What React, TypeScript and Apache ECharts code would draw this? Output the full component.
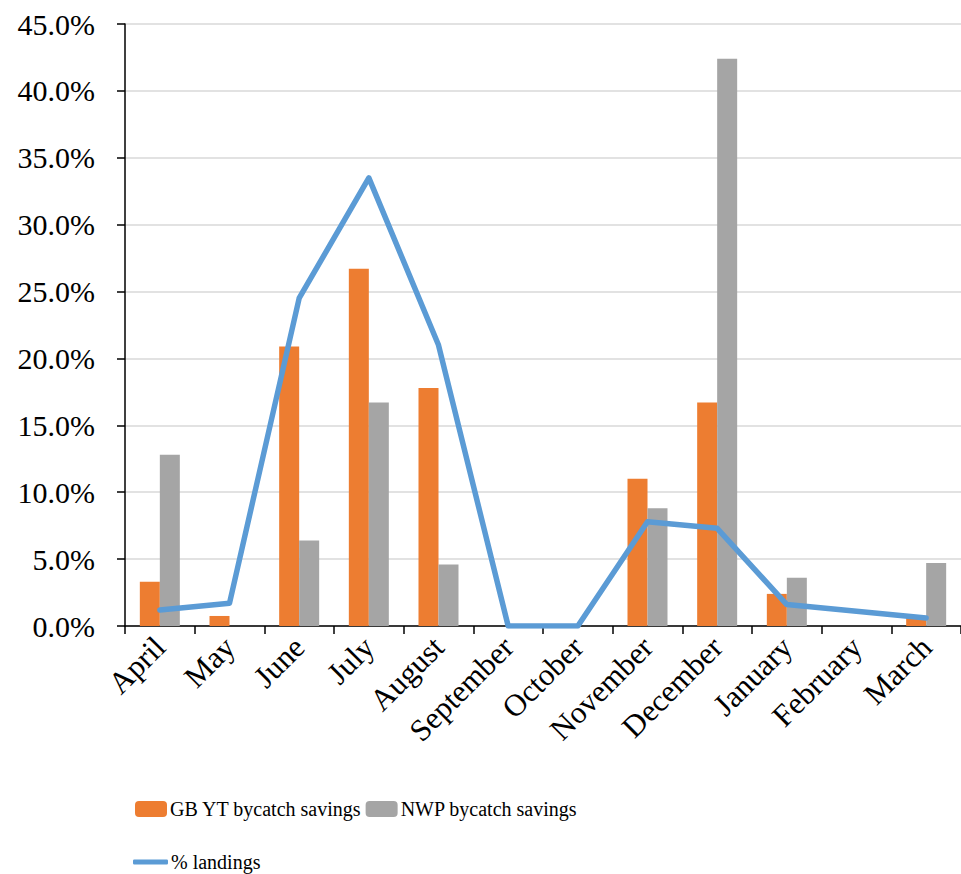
import React, { useEffect, useRef } from "react";
import * as echarts from "echarts";

const months = ["April", "May", "June", "July", "August", "September", "October", "November", "December", "January", "February", "March"];
const gbYtSavings = [3.3, 0.75, 20.9, 26.7, 17.8, 0, 0, 11.0, 16.7, 2.4, 0, 0.6];
const nwpSavings = [12.8, 0, 6.4, 16.7, 4.6, 0, 0, 8.8, 42.4, 3.6, 0, 4.7];
const landings = [1.2, 1.7, 24.5, 33.5, 21.0, 0, 0, 7.8, 7.3, 1.6, 1.1, 0.6];
const seriesNames = ["GB YT bycatch savings", "NWP bycatch savings", "% landings"];

const FONT = "'Liberation Serif', 'Times New Roman', serif";

export default function App() {
  const ref = useRef<HTMLDivElement>(null);
  useEffect(() => {
    if (!ref.current) return;
    const chart = echarts.init(ref.current, null, { renderer: "svg" });
    chart.setOption({
      animation: false,
      backgroundColor: "#ffffff",
      textStyle: { fontFamily: FONT },
      grid: { left: 125, top: 24, width: 845, height: 602, containLabel: false },
      legend: [
        {
          data: [seriesNames[0], seriesNames[1]],
          left: 130,
          top: 794,
          itemWidth: 32,
          itemHeight: 16,
          itemGap: 4,
          textStyle: { fontFamily: FONT, fontSize: 20, color: "#000", padding: [0, 0, 0, -2] },
        },
        {
          data: [{ name: seriesNames[2], icon: "roundRect" }],
          left: 128,
          top: 847,
          itemWidth: 35,
          itemHeight: 5,
          itemStyle: { color: "#5b9bd5" },
          lineStyle: { width: 0 },
          textStyle: { fontFamily: FONT, fontSize: 20, color: "#000", padding: [0, 0, 0, -2] },
        },
      ],
      xAxis: {
        type: "category",
        data: months,
        boundaryGap: true,
        axisLine: { lineStyle: { color: "#000", width: 1.5 } },
        axisTick: { show: true, alignWithLabel: false, length: 8, lineStyle: { color: "#000", width: 1.5 } },
        axisLabel: { rotate: 45, interval: 0, margin: 16, fontFamily: FONT, fontSize: 31, color: "#000" },
      },
      yAxis: {
        type: "value",
        min: 0,
        max: 45,
        interval: 5,
        axisLine: { show: true, lineStyle: { color: "#000", width: 1.5 } },
        axisTick: { show: true, length: 8, lineStyle: { color: "#000", width: 1.5 } },
        splitLine: { lineStyle: { color: "#d9d9d9", width: 1.5 } },
        axisLabel: {
          margin: 30,
          fontFamily: FONT,
          fontSize: 30,
          color: "#000",
          formatter: (v: number) => v.toFixed(1) + "%",
        },
      },
      series: [
        {
          name: seriesNames[0],
          type: "bar",
          data: gbYtSavings,
          barWidth: 20,
          barGap: "0%",
          itemStyle: { color: "#ed7d31" },
        },
        {
          name: seriesNames[1],
          type: "bar",
          data: nwpSavings,
          barWidth: 20,
          barGap: "0%",
          itemStyle: { color: "#a5a5a5" },
        },
        {
          name: seriesNames[2],
          type: "line",
          data: landings,
          symbol: "none",
          lineStyle: { color: "#5b9bd5", width: 5.5, cap: "round", join: "round" },
          itemStyle: { color: "#5b9bd5" },
          z: 5,
        },
      ],
    });
    return () => chart.dispose();
  }, []);
  return (
    <div
      ref={ref}
      style={{ position: "fixed", left: 0, top: 0, width: 961, height: 874, background: "#fff" }}
    />
  );
}
